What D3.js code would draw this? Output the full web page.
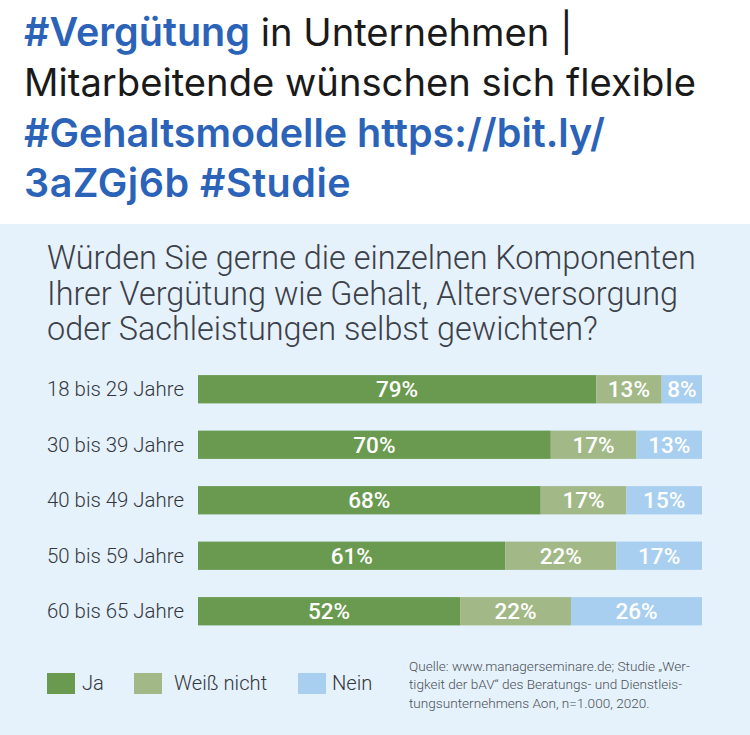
<!DOCTYPE html>
<html>
<head>
<meta charset="utf-8">
<title>Vergütung</title>
<script src="https://cdn.jsdelivr.net/npm/d3@7"></script>
<style>
  html, body { margin: 0; padding: 0; background: #fff; }
  svg { display: block; }
</style>
</head>
<body>
<div id="chart"></div>
<script>
var ageGroups = ["18 bis 29 Jahre", "30 bis 39 Jahre", "40 bis 49 Jahre", "50 bis 59 Jahre", "60 bis 65 Jahre"];
var answers = ["Ja", "Weiß nicht", "Nein"];
var ja = [79, 70, 68, 61, 52];
var weissNicht = [13, 17, 17, 22, 22];
var nein = [8, 13, 15, 17, 26];

var answerColors = ["#6a9a50", "#a2b987", "#a8cfef"];

var headerLines = [
  [["#Vergütung", true], [" in Unternehmen |", false]],
  [["Mitarbeitende wünschen sich flexible", false]],
  [["#Gehaltsmodelle https://bit.ly/", true]],
  [["3aZGj6b #Studie", true]]
];
var titleLines = ["Würden Sie gerne die einzelnen Komponenten", "Ihrer Vergütung wie Gehalt, Altersversorgung", "oder Sachleistungen selbst gewichten?"];
var sourceLines = ["Quelle: www.managerseminare.de; Studie „Wer-", "tigkeit der bAV“ des Beratungs- und Dienstleis-", "tungsunternehmens Aon, n=1.000, 2020."];

var width = 750, height = 735;
var svg = d3.select("#chart").append("svg").attr("width", width).attr("height", height);

// background panel
svg.append("rect").attr("x", 0).attr("y", 224).attr("width", width).attr("height", height - 224).attr("fill", "#e5f1fb");

// tweet text on top
var header = svg.append("g").attr("font-family", "Inter, sans-serif");
headerLines.forEach(function(line, i){
  var t = header.append("text").attr("x", 24).attr("y", 46 + i * 50.3);
  // last line runs a bit wider in the original
  if(i == 3){ t.attr("letter-spacing", 0.5); }
  line.forEach(function(part){
    t.append("tspan").text(part[0])
      .attr("fill", part[1] ? "#2b63b8" : "#1a1a1a")
      .attr("font-size", part[1] ? 39.5 : 38.2)
      .attr("font-weight", part[1] ? 600 : 400);
  });
});

// question
svg.append("g").selectAll("text").data(titleLines).join("text")
  .attr("x", 47).attr("y", function(d, i){ return 269 + i * 35.5; })
  .attr("font-family", "Roboto, sans-serif").attr("font-weight", 300).attr("font-size", 32.4)
  .attr("fill", "#3c4048").text(function(d){ return d; });

var x = d3.scaleLinear().domain([0, 100]).range([198, 702]);
var y = d3.scaleBand().domain(ageGroups).range([361.5, 639]).paddingInner(0.49).paddingOuter(0.245);

var rows = ageGroups.map(function(g, i){ return {group: g, Ja: ja[i], "Weiß nicht": weissNicht[i], Nein: nein[i]}; });
var stacked = d3.stack().keys(answers)(rows);
var color = d3.scaleOrdinal().domain(answers).range(answerColors);

// age labels
svg.append("g").selectAll("text").data(ageGroups).join("text")
  .attr("x", 47).attr("y", function(d){ return y(d) + y.bandwidth() / 2 + 7; })
  .attr("font-family", "Roboto, sans-serif").attr("font-size", 20.4).attr("font-weight", 300)
  .attr("fill", "#33373d").text(function(d){ return d; });

// bars
var layers = svg.append("g").selectAll("g").data(stacked).join("g").attr("fill", function(s){ return color(s.key); });
layers.selectAll("rect").data(function(s){ return s; }).join("rect")
  .attr("x", function(d){ return x(d[0]); })
  .attr("y", function(d){ return y(d.data.group); })
  .attr("width", function(d){ return x(d[1]) - x(d[0]); })
  .attr("height", y.bandwidth());

layers.selectAll("text").data(function(s){ return s; }).join("text")
  .attr("x", function(d){ return (x(d[0]) + x(d[1])) / 2; })
  .attr("y", function(d){ return y(d.data.group) + y.bandwidth() / 2 + 8; })
  .attr("text-anchor", "middle").attr("fill", "#fff")
  .attr("font-family", "Roboto, sans-serif").attr("font-weight", 500).attr("font-size", 22.5)
  .text(function(d){ return (d[1] - d[0]) + "%"; });

// legend
var legendX = d3.scaleOrdinal().domain(answers).range([47, 134, 298]);
var legendTextX = d3.scaleOrdinal().domain(answers).range([82, 174, 332]);
var legend = svg.append("g").selectAll("g").data(answers).join("g");
legend.append("rect").attr("x", function(d){ return legendX(d); }).attr("y", 673)
  .attr("width", 28).attr("height", 21).attr("fill", function(d){ return color(d); });
legend.append("text").attr("x", function(d){ return legendTextX(d); }).attr("y", 690)
  .attr("font-family", "Roboto, sans-serif").attr("font-size", 20.2).attr("font-weight", 300)
  .attr("fill", "#33373d").text(function(d){ return d; });

// source note
svg.append("g").selectAll("text").data(sourceLines).join("text")
  .attr("x", 409).attr("y", function(d, i){ return 671 + i * 18.3; })
  .attr("font-family", "Roboto, sans-serif").attr("font-size", 13.6).attr("font-weight", 300)
  .attr("fill", "#4c5157").text(function(d){ return d; });
</script>
</body>
</html>
